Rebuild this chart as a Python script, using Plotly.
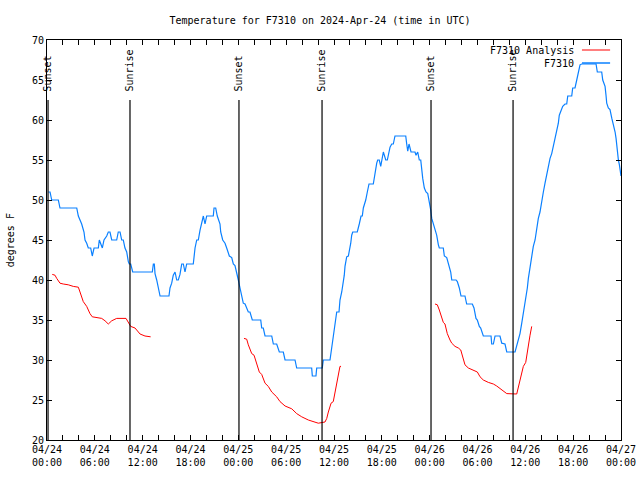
import datetime as dt
import plotly.graph_objects as go

BASE = dt.datetime(2024, 4, 24, 0, 0)

# Observed station temperature (hours since 2024-04-24 00:00 UTC, degrees F)
obs_hours = [0.16, 0.38, 0.59, 1.42, 1.63, 3.73, 3.93, 4.35, 4.64, 4.77, 4.98, 5.18, 5.48, 5.68, 5.90,
             6.44, 6.56, 6.74, 6.94, 7.15, 7.49, 7.69, 7.90, 8.12, 8.74, 8.94, 9.16, 9.37, 9.57, 9.78,
             10.0, 10.2, 10.32, 10.5, 10.75, 13.21, 13.34, 13.46, 13.55, 13.76, 13.96, 14.18, 15.30,
             15.43, 15.64, 15.84, 16.06, 16.27, 16.47, 16.68, 16.90, 17.10, 17.31, 17.52, 18.35, 18.44,
             18.57, 18.78, 18.98, 19.19, 19.41, 19.61, 19.82, 20.03, 20.86, 20.95, 21.16, 21.36, 21.70,
             21.79, 22.04, 22.33, 22.54, 22.87, 23.17, 23.37, 23.58, 23.80, 24.0, 24.21, 24.62, 24.84,
             25.25, 25.46, 25.75, 26.81, 26.93, 27.13, 27.35, 28.19, 28.39, 28.81, 29.01, 29.14, 29.64,
             29.86, 31.11, 31.32, 33.20, 33.28, 33.74, 33.83, 34.53, 34.66, 35.50, 35.63, 35.84, 36.0,
             36.25, 36.34, 36.63, 36.75, 36.97, 37.17, 37.29, 37.38, 37.59, 37.80, 37.92, 38.10, 38.22,
             38.35, 38.92, 39.05, 39.17, 39.39, 39.55, 39.68, 39.80, 39.98, 40.18, 40.39, 40.93, 41.06,
             41.23, 41.36, 41.48, 41.68, 41.86, 41.98, 42.19, 42.31, 42.49, 42.69, 42.86, 43.03, 43.24,
             43.44, 43.65, 45.0, 45.12, 45.25, 45.41, 45.53, 45.66, 46.16, 46.29, 46.50, 46.70, 46.88,
             47.0, 47.13, 47.33, 47.54, 47.76, 47.96, 48.13, 48.26, 48.46, 48.67, 48.88, 49.09, 49.21,
             49.71, 49.84, 50.14, 50.34, 50.55, 50.64, 50.77, 51.31, 51.47, 51.72, 51.93, 52.43, 52.64,
             53.35, 53.56, 53.81, 53.98, 54.23, 54.40, 54.73, 55.70, 55.78, 55.99, 56.20, 56.82, 57.04,
             57.45, 57.67, 58.71, 58.92, 59.12, 59.33, 59.55, 59.75, 59.87, 60.09, 60.25, 60.38, 60.59,
             60.80, 61.0, 61.22, 61.43, 61.63, 61.84, 62.06, 62.26, 62.47, 62.68, 62.88, 63.10, 63.31,
             63.51, 63.72, 63.94, 64.14, 64.26, 64.44, 64.69, 64.98, 65.19, 65.32, 65.82, 65.94, 66.23,
             66.45, 66.65, 66.86, 67.07, 68.87, 69.03, 69.58, 69.71, 70.0, 70.12, 70.21, 70.41, 70.62,
             70.85, 71.05, 71.26, 71.38, 71.47, 71.55, 71.67, 71.80, 71.89, 72.0]
obs_temp = [51, 51, 50, 50, 49, 49, 48, 47, 46, 45, 44.6, 44, 44, 43, 44,
            44, 45, 44.5, 44, 45, 45.5, 46, 46, 45, 45, 46, 46, 45, 45, 44,
            43.5, 42.3, 42, 42, 41, 41, 42, 42, 40.8, 40, 39.2, 38, 38,
            39, 39.6, 40.6, 41, 40, 40, 40.7, 42, 42, 41, 42, 42, 43,
            44, 45, 45, 46.2, 47, 48, 47, 48, 48, 49, 49, 48, 47,
            46, 45, 44.6, 44, 43, 42.8, 42, 41.8, 41, 40, 39, 37.1, 37,
            36, 36, 35, 35, 34, 34, 33, 33, 32, 32, 31.2, 31, 31,
            30, 30, 29, 29, 28, 28, 29, 29, 30, 30, 31, 32.5, 34,
            35.4, 36, 36, 37.5, 38.5, 39.6, 40.6, 41.7, 42.9, 43, 43.5, 44.6, 45.6,
            46, 46, 46.75, 47, 48, 48, 49, 49.3, 50, 51, 52, 52, 52.9,
            53.5, 54.6, 55, 55, 54.2, 55, 56, 55.6, 55, 55, 55.8, 56.6, 57,
            57, 58, 58, 57, 56.1, 57, 56.6, 56, 56, 55.6, 56, 55, 55,
            53.75, 52.7, 51.5, 51, 50.8, 49.8, 48.75, 47.7, 47.1, 46.5, 45.6, 44.4, 44,
            44, 43, 42.8, 42, 41.5, 41, 40, 40, 39.8, 39, 38, 38, 37,
            37, 36.5, 35.2, 35, 34.2, 34, 33, 33, 32, 32, 33, 33, 32.1,
            32, 31, 31, 31.7, 32.5, 33.3, 34.6, 35.8, 36.7, 37.9, 39, 40.2, 41.7,
            43.1, 44.2, 45, 46.5, 47.7, 48.5, 50, 51, 52.1, 53.3, 54.4, 55.2, 55.8,
            56.7, 57.7, 58.5, 59.6, 60.6, 61, 61.7, 62, 62, 63, 63, 64, 64,
            65, 65.8, 66.9, 67, 67, 66, 66, 65, 64.2, 63.1, 62.1, 61.5, 61.3,
            60.2, 59.5, 58.5, 57.7, 56.7, 55.6, 55, 54.4, 53.5, 53]

# Analysis temperature, three forecast segments (None = gap)
ana_hours = [0.66, 1.0, 1.22, 1.63, 2.04, 2.67, 3.30, 3.93, 4.14, 4.35, 4.55, 4.98, 5.39, 5.68, 6.23,
             6.86, 7.28, 7.69, 8.12, 8.74, 9.91, 10.2, 10.5, 11.04, 11.67, 12.29, 13.0, None,
             24.71, 25.05, 25.25, 25.68, 25.97, 26.30, 26.63, 26.93, 27.35, 27.76, 28.19, 28.81, 29.23,
             29.86, 30.70, 31.32, 31.95, 32.78, 33.62, 34.03, 34.87, 35.09, 35.29, 35.63, 35.91, 36.13,
             36.34, 36.54, 36.75, 36.88, None,
             48.67, 48.96, 49.21, 49.42, 49.71, 49.92, 50.21, 50.55, 50.77, 51.18, 51.60, 51.90, 52.22,
             52.43, 52.85, 53.48, 53.98, 54.32, 54.73, 55.36, 55.99, 56.41, 57.04, 57.67, 58.92, 59.12,
             59.33, 59.55, 59.75, 60.05, 60.17, 60.38, 60.59, 60.80]
ana_temp = [40.7, 40.6, 40.2, 39.6, 39.5, 39.4, 39.2, 39.1, 38.5, 37.9, 37.3, 36.7, 35.8, 35.4, 35.3,
            35.2, 34.9, 34.5, 34.9, 35.2, 35.2, 34.7, 34.2, 34.0, 33.25, 33.0, 32.9, None,
            32.7, 32.6, 31.9, 30.8, 30.6, 29.4, 28.5, 28.2, 27.1, 26.7, 26.0, 25.4, 24.8,
            24.25, 23.9, 23.3, 22.9, 22.5, 22.2, 22.1, 22.25, 22.7, 23.5, 24.6, 24.8, 26.0,
            27.3, 28.5, 29.2, 29.2, None,
            37.0, 36.9, 36.25, 35.6, 34.7, 34.5, 33.3, 32.5, 32.1, 31.7, 31.5, 31.25, 30.2,
            29.4, 29.0, 28.7, 28.5, 27.9, 27.5, 27.2, 27.0, 26.75, 26.3, 25.8, 25.75, 26.5,
            27.3, 28.3, 29.2, 29.7, 30.6, 31.7, 33.1, 34.2]

# Sun events (hours since start)
event_hours = [0.13, 10.41, 24.08, 34.5, 48.17, 58.46]
event_labels = ["Sunset", "Sunrise", "Sunset", "Sunrise", "Sunset", "Sunrise"]

series_names = ["F7310 Analysis", "F7310"]
series_colors = ["#ff0000", "#0a80ff"]


def to_time(h):
    return None if h is None else BASE + dt.timedelta(hours=h)


FONT = "DejaVu Sans Mono"

fig = go.Figure()
fig.add_trace(go.Scatter(x=[to_time(h) for h in ana_hours], y=ana_temp, mode="lines",
                         line=dict(color=series_colors[0], width=1), connectgaps=False,
                         name=series_names[0], showlegend=False))
fig.add_trace(go.Scatter(x=[to_time(h) for h in obs_hours], y=obs_temp, mode="lines",
                         line=dict(color=series_colors[1], width=1.2),
                         name=series_names[1], showlegend=False))

# Sunrise / sunset markers
for h, lab in zip(event_hours, event_labels):
    t = to_time(h)
    fig.add_shape(type="line", xref="x", yref="y", x0=t, x1=t, y0=20, y1=62.5,
                  line=dict(color="black", width=1.2))
    fig.add_annotation(x=t, y=63.3, xref="x", yref="y", text=lab, textangle=-90,
                       showarrow=False, xanchor="center", yanchor="bottom",
                       font=dict(family=FONT, size=10, color="black"))

# gnuplot-style legend (text left, sample right)
legend_y = [0.975, 0.9425]
for name, color, yy, w in zip(series_names, series_colors, legend_y, [1, 1.5]):
    fig.add_annotation(x=0.921, y=yy, xref="paper", yref="paper", text=name, showarrow=False,
                       xanchor="right", yanchor="middle",
                       font=dict(family=FONT, size=10, color="black"))
    fig.add_shape(type="line", xref="paper", yref="paper", x0=0.932, x1=0.981, y0=yy, y1=yy,
                  line=dict(color=color, width=w))

# y-axis title
fig.add_annotation(x=-0.064, y=0.5, xref="paper", yref="paper", text="degrees F", textangle=-90,
                   showarrow=False, xanchor="center", yanchor="middle",
                   font=dict(family=FONT, size=10, color="black"))

fig.update_layout(
    width=640, height=480,
    margin=dict(l=47, r=19, t=40, b=40, autoexpand=False),
    paper_bgcolor="white", plot_bgcolor="white",
    font=dict(family=FONT, size=10, color="black"),
    title=dict(text="Temperature for F7310 on 2024-Apr-24 (time in UTC)", x=0.5, xanchor="center",
               y=0.958, yanchor="middle", yref="container", automargin=False,
               font=dict(family=FONT, size=10)),
    showlegend=False,
)
fig.update_xaxes(
    range=[BASE, BASE + dt.timedelta(hours=72)],
    tickmode="linear", tick0=BASE, dtick=6 * 3600 * 1000,
    tickformat="%m/%d<br>%H:%M",
    ticks="inside", ticklen=5, tickcolor="black",
    minor=dict(dtick=2 * 3600 * 1000, ticks="inside", ticklen=5, tickcolor="black"),
    showline=True, linecolor="black", linewidth=1, mirror="allticks",
    showgrid=False, zeroline=False, automargin=False,
    tickfont=dict(family=FONT, size=10),
)
fig.update_yaxes(
    range=[20, 70], tickmode="linear", tick0=20, dtick=5,
    ticks="inside", ticklen=5, tickcolor="black",
    showline=True, linecolor="black", linewidth=1, mirror="allticks",
    showgrid=False, zeroline=False, automargin=False,
    tickfont=dict(family=FONT, size=10),
)

fig.write_html("out.html", config={"displayModeBar": False},
               post_script="document.body.style.margin='0px';document.body.style.padding='0px';")
